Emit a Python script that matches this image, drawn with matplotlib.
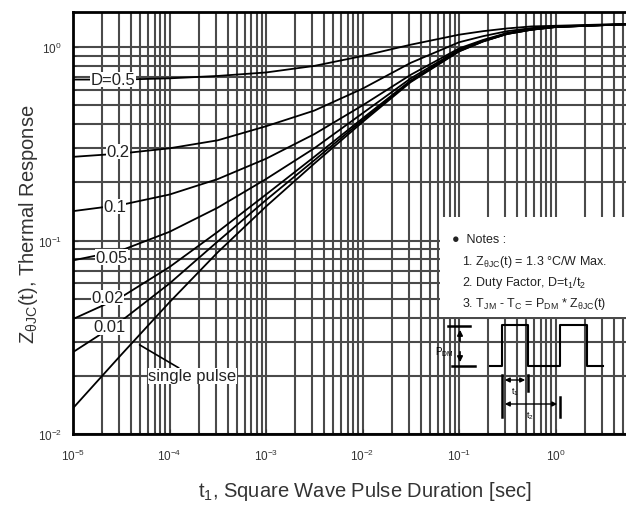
import matplotlib.pyplot as plt
import numpy as np
from matplotlib.patches import Rectangle

plt.rcParams['font.family'] = ['Liberation Sans', 'DejaVu Sans']
plt.rcParams['mathtext.fontset'] = 'custom'
plt.rcParams['mathtext.rm'] = 'Liberation Sans'
plt.rcParams['mathtext.it'] = 'Liberation Sans:italic'

# pulse duration samples (log10 of seconds)
t_exp = [-5, -4.5, -4, -3.5, -3, -2.5, -2, -1.5, -1, -0.75, -0.5, -0.25, 0, 0.5, 0.8]
t = 10.0 ** np.array(t_exp)

# thermal response
single = [0.0136, 0.0257, 0.048, 0.087, 0.15, 0.25, 0.41, 0.66, 0.95, 1.07, 1.17, 1.23, 1.27, 1.30, 1.315]
d001 = [0.0265, 0.0384, 0.060, 0.099, 0.162, 0.26, 0.419, 0.666, 0.953, 1.072, 1.171, 1.231, 1.271, 1.30, 1.315]
d002 = [0.0393, 0.051, 0.073, 0.111, 0.173, 0.271, 0.428, 0.673, 0.957, 1.075, 1.173, 1.232, 1.272, 1.30, 1.315]
d005 = [0.079, 0.089, 0.111, 0.148, 0.208, 0.30, 0.455, 0.69, 0.97, 1.08, 1.18, 1.235, 1.273, 1.30, 1.315]
d01 = [0.142, 0.153, 0.173, 0.208, 0.265, 0.355, 0.50, 0.72, 0.985, 1.09, 1.185, 1.24, 1.275, 1.302, 1.316]
d02 = [0.271, 0.282, 0.30, 0.33, 0.39, 0.47, 0.61, 0.83, 1.06, 1.14, 1.21, 1.255, 1.28, 1.305, 1.318]
d05 = [0.68, 0.68, 0.69, 0.71, 0.74, 0.80, 0.90, 1.03, 1.16, 1.21, 1.25, 1.28, 1.29, 1.31, 1.32]

curves = [d05, d02, d01, d005, d002, d001, single]
labels = ["D=0.5", "0.2", "0.1", "0.05", "0.02", "0.01"]
label_x = [2.6e-5, 2.9e-5, 2.7e-5, 2.5e-5, 2.3e-5, 2.4e-5]
label_y = [0.68, 0.289, 0.150, 0.082, 0.0507, 0.0358]

fig = plt.figure(figsize=(6.26, 5.06), dpi=100)
# x axis runs to 10^1, which falls just past the right edge of the picture
ax = fig.add_axes([73 / 626, 71 / 506, 579 / 626, 422 / 506])
ax.set_xscale("log")
ax.set_yscale("log")
ax.set_xlim(1e-5, 10)
ax.set_ylim(1e-2, 1.52)

ax.grid(True, which="both", color="#4a4a4a", linewidth=1.5)
ax.set_axisbelow(True)

for c in curves:
    ax.plot(t, c, color="black", linewidth=1.3, zorder=3)

for s, x, y in zip(labels, label_x, label_y):
    ax.text(x, y, s, fontsize=12, ha="center", va="center", zorder=5, color="#222222",
            bbox=dict(facecolor="white", edgecolor="none", pad=0.3))

ax.annotate("single pulse", xy=(4.9e-5, 0.0289), xytext=(6.0e-5, 0.020),
            fontsize=12, va="center", zorder=5, color="#222222",
            bbox=dict(facecolor="white", edgecolor="none", pad=0.3),
            arrowprops=dict(arrowstyle="-", color="black", lw=1.2, shrinkA=0, shrinkB=0))

ax.set_xticks([1e-5, 1e-4, 1e-3, 1e-2, 1e-1, 1e0])
ax.set_xticklabels(["$10^{-5}$", "$10^{-4}$", "$10^{-3}$", "$10^{-2}$", "$10^{-1}$", "$10^{0}$"])
ax.set_yticks([1e-2, 1e-1, 1e0])
ax.set_yticklabels(["$10^{-2}$", "$10^{-1}$", "$10^{0}$"])
ax.tick_params(which="both", direction="in", labelsize=8.5, colors="#333333")
ax.tick_params(axis="x", pad=10)
ax.tick_params(axis="y", pad=8)
ax.tick_params(which="minor", labelbottom=False, labelleft=False)

for side in ["left", "bottom", "top"]:
    ax.spines[side].set_linewidth(2)
ax.spines["right"].set_visible(False)

ax.set_xlabel("t$_1$, Square Wave Pulse Duration [sec]", fontsize=14.5, color="#333333")
ax.set_ylabel(r"Z$_{\mathrm{\theta JC}}$(t), Thermal Response", fontsize=14.5, color="#333333")
ax.xaxis.set_label_coords((365 - 73) / 579, (435 - 480) / 422)
ax.yaxis.set_label_coords((40 - 73) / 579, 0.5)


# notes box and pulse sketch, placed in axes fraction from pixel positions
def pos(px, py):
    return ((px - 73) / 579, (435 - py) / 422)


x0, y0 = pos(440, 318)
x1, y1 = pos(652, 218)
ax.add_patch(Rectangle((x0, y0), x1 - x0, y1 - y0, transform=ax.transAxes,
                       facecolor="white", edgecolor="none", zorder=4))

notes = ["\u25cf  Notes :",
         "1. Z$_{\\mathrm{\\theta JC}}$(t) = 1.3 \u00b0C/W Max.",
         "2. Duty Factor, D=t$_1$/t$_2$",
         "3. T$_{\\mathrm{JM}}$ - T$_{\\mathrm{C}}$ = P$_{\\mathrm{DM}}$ * Z$_{\\mathrm{\\theta JC}}$(t)"]
note_px = [452, 462, 462, 462]
note_py = [240, 262, 283, 304]
for s, px, py in zip(notes, note_px, note_py):
    ax.text(*pos(px, py), s, transform=ax.transAxes, fontsize=9,
            va="center", ha="left", zorder=5, color="#222222")

# square wave
wave_px = [490, 502, 502, 528, 528, 560, 560, 587, 587, 603]
wave_py = [367, 367, 326, 326, 367, 367, 326, 326, 367, 367]
wx, wy = zip(*[pos(a, b) for a, b in zip(wave_px, wave_py)])
ax.plot(wx, wy, transform=ax.transAxes, color="black", lw=1.5, zorder=6)

# P_DM marker
for (ax0, ay0), (ax1, ay1) in [(pos(448, 327), pos(470, 327)), (pos(452, 367), pos(475, 367))]:
    ax.plot([ax0, ax1], [ay0, ay1], transform=ax.transAxes, color="black", lw=1.8, zorder=6)
ax.annotate("", xy=pos(460, 328), xytext=pos(460, 345), xycoords="axes fraction",
            arrowprops=dict(arrowstyle="-|>", color="black", lw=1.2, mutation_scale=8), zorder=6)
ax.annotate("", xy=pos(460, 366), xytext=pos(460, 350), xycoords="axes fraction",
            arrowprops=dict(arrowstyle="-|>", color="black", lw=1.2, mutation_scale=8), zorder=6)
ax.text(*pos(444, 352), "P$_{\\mathrm{DM}}$", transform=ax.transAxes, fontsize=7,
        ha="center", va="center", zorder=6)

# t1 / t2 markers
for a, b in [((502, 376), (502, 418)), ((528, 376), (528, 392)), ((560, 398), (560, 418))]:
    pa, pb = pos(*a), pos(*b)
    ax.plot([pa[0], pb[0]], [pa[1], pb[1]], transform=ax.transAxes, color="black", lw=1.8, zorder=6)
ax.annotate("", xy=pos(502, 381), xytext=pos(528, 381), xycoords="axes fraction",
            arrowprops=dict(arrowstyle="<|-|>", color="black", lw=1.0, mutation_scale=7), zorder=6)
ax.annotate("", xy=pos(502, 405), xytext=pos(560, 405), xycoords="axes fraction",
            arrowprops=dict(arrowstyle="<|-|>", color="black", lw=1.0, mutation_scale=7), zorder=6)
ax.text(*pos(515, 392), "t$_1$", transform=ax.transAxes, fontsize=6.5, ha="center", va="center", zorder=6)
ax.text(*pos(530, 416), "t$_2$", transform=ax.transAxes, fontsize=6.5, ha="center", va="center", zorder=6)

fig.savefig("out.png", dpi=100)
